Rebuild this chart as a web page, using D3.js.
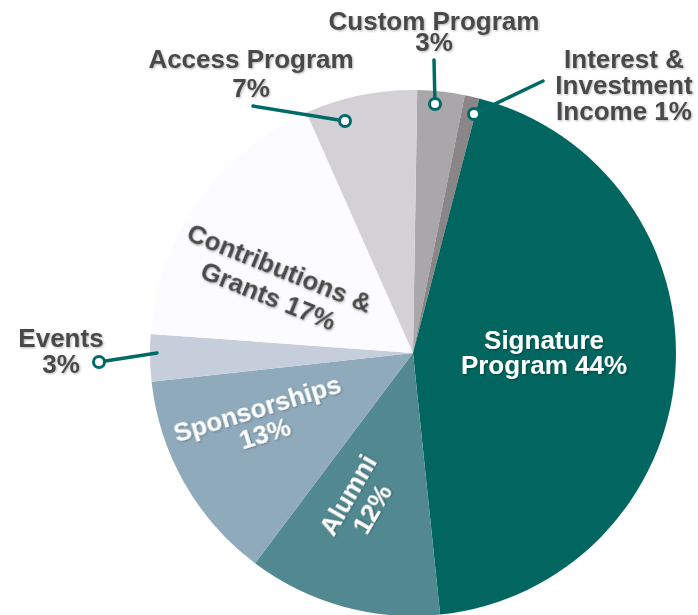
<!DOCTYPE html>
<html>
<head>
<meta charset="utf-8">
<script src="https://cdn.jsdelivr.net/npm/d3@7"></script>
<style>
  body { margin: 0; background: #fff; }
  svg { display: block; font-family: 'Liberation Sans', Arial, sans-serif; font-weight: bold; }
</style>
</head>
<body>
<svg class="pie" width="698" height="615"></svg>
<script>
const categories = ['Custom Program', 'Interest & Investment Income', 'Signature Program', 'Alumni',
  'Sponsorships', 'Events', 'Contributions & Grants', 'Access Program']
// shares (labels show the rounded figures)
const values = [2.9, 0.9, 44.3, 11.9, 13.0, 2.9, 17.2, 6.9]
const colors = ['#a9a7a9', '#8a8688', '#00665f', '#528890', '#8eaabb', '#c6cedc', '#fcfbff', '#d3d1d6']

// label lines per slice
const labelLines = [
  ['Custom Program', '3%'],
  ['Interest &', 'Investment', 'Income 1%'],
  ['Signature', 'Program 44%'],
  ['Alumni', '12%'],
  ['Sponsorships', '13%'],
  ['Events', '3%'],
  ['Contributions &', 'Grants 17%'],
  ['Access Program', '7%']
]

const svg = d3.select('.pie'),
  cx = 413, cy = 353, radius = 263,
  start = 0.016

const defs = svg.append('defs')
defs.append('filter').attr('id', 'shadow')
  .attr('x', '-20%').attr('y', '-20%').attr('width', '140%').attr('height', '140%')
  .append('feDropShadow')
  .attr('dx', 1).attr('dy', 1).attr('stdDeviation', 1)
  .attr('flood-color', '#000').attr('flood-opacity', 0.3)

const data = categories.map((c, i) => ({ name: c, value: values[i], color: colors[i], lines: labelLines[i] }))

const pie = d3.pie().sort(null).value(d => d.value)
  .startAngle(start).endAngle(start + 2 * Math.PI)
const arc = d3.arc().innerRadius(0).outerRadius(radius)
const arcs = pie(data)

const g = svg.append('g')
  .attr('transform', 'translate(' + cx + ',' + cy + ')')

g.selectAll('.slice')
  .data(arcs)
  .enter().append('path')
  .attr('class', 'slice')
  .attr('d', arc)
  .attr('fill', d => d.data.color)

// inside labels (page coords of block centre)
const inside = [
  { i: 2, at: [544, 352], rot: 0, lh: 25, fill: '#fff' },
  { i: 3, at: [360, 502], rot: -60, lh: 28, fill: '#fff' },
  { i: 4, at: [261, 421], rot: -17, lh: 26, fill: '#fff' },
  { i: 6, at: [274, 282], rot: 22, lh: 30, fill: '#4a4a4a' }
]

inside.forEach(o => {
  const a = arcs[o.i]
  const t = svg.append('text')
    .attr('transform', 'translate(' + o.at[0] + ',' + o.at[1] + ') rotate(' + o.rot + ')')
    .attr('text-anchor', 'middle')
    .attr('fill', o.fill)
    .attr('filter', 'url(#shadow)')
    .style('font-size', '26px')
  const n = a.data.lines.length
  a.data.lines.forEach((l, k) => {
    t.append('tspan')
      .attr('x', 0)
      .attr('y', (k - (n - 1) / 2) * o.lh + 9)
      .text(l)
  })
})

// outside callouts: dot on slice, line end, label centre x / first baseline
const callouts = [
  { i: 0, dot: [435, 104], end: [434, 60], label: [434, 30], lh: 21 },
  { i: 1, dot: [474, 114], end: [543, 81], label: [624, 68], lh: 26 },
  { i: 5, dot: [99, 362], end: [157, 353], label: [61, 347], lh: 26 },
  { i: 7, dot: [345, 121], end: [253, 106], label: [251, 68], lh: 29 }
]

callouts.forEach(o => {
  const a = arcs[o.i]
  svg.append('line')
    .attr('x1', o.dot[0]).attr('y1', o.dot[1])
    .attr('x2', o.end[0]).attr('y2', o.end[1])
    .attr('stroke', '#006b66').attr('stroke-width', 3.5)
    .attr('stroke-linecap', 'round')
  svg.append('circle')
    .attr('cx', o.dot[0]).attr('cy', o.dot[1]).attr('r', 5.5)
    .attr('fill', '#fff').attr('stroke', '#006b66').attr('stroke-width', 3)
  const t = svg.append('text')
    .attr('text-anchor', 'middle')
    .attr('fill', '#4a4a4a')
    .attr('filter', 'url(#shadow)')
    .style('font-size', '26px')
  a.data.lines.forEach((l, k) => {
    t.append('tspan')
      .attr('x', o.label[0])
      .attr('y', o.label[1] + k * o.lh)
      .text(l)
  })
})
</script>
</body>
</html>
